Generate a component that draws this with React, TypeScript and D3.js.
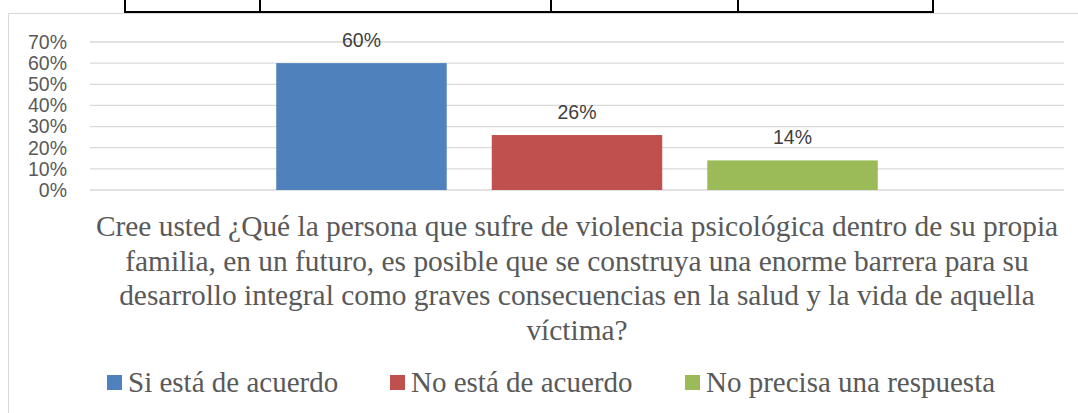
import React from "react";
import * as d3 from "d3";

const seriesNames = ["Si está de acuerdo", "No está de acuerdo", "No precisa una respuesta"];
const seriesValues = [0.6, 0.26, 0.14];
const seriesColors = ["#4F81BD", "#C0504D", "#9BBB59"];
const yTicks = [0, 0.1, 0.2, 0.3, 0.4, 0.5, 0.6, 0.7];
const titleLines = [
  "Cree usted ¿Qué la persona que sufre de violencia psicológica dentro de su propia",
  "familia, en un futuro, es posible que se construya una enorme barrera para su",
  "desarrollo integral como graves consecuencias en la salud y la vida de aquella",
  "víctima?",
];
const tableCols = [125, 260, 551, 738, 933];

export default function App() {
  const W = 1078, H = 413;
  const plotL = 90, plotR = 1064, plotT = 42, plotB = 190;
  const y = d3.scaleLinear().domain([0, 0.7]).range([plotB, plotT]);
  const x = d3
    .scaleBand<string>()
    .domain(seriesNames)
    .range([plotL, plotR])
    .paddingInner(0.209)
    .paddingOuter(0.864);
  const fmt = d3.format(".0%");
  const serif = "'Liberation Serif', 'Times New Roman', serif";
  const sans = "'Liberation Sans', Arial, sans-serif";
  const legendX = [107, 390, 685];

  return (
    <svg
      width={W}
      height={H}
      style={{ position: "absolute", left: 0, top: 0, background: "#fff" }}
    >
      {/* table fragment above */}
      <line x1={124} x2={934} y1={12} y2={12} stroke="#000" strokeWidth={2} />
      {tableCols.map((c) => (
        <line key={c} x1={c} x2={c} y1={0} y2={12} stroke="#000" strokeWidth={2} />
      ))}
      {/* chart border */}
      <rect x={8.5} y={13.5} width={W + 10} height={H + 10} fill="none" stroke="#D9D9D9" strokeWidth={1} />
      {/* gridlines */}
      {yTicks.map((t) => (
        <line key={t} x1={plotL} x2={plotR} y1={y(t)} y2={y(t)} stroke="#D9D9D9" strokeWidth={1.3} />
      ))}
      {/* y labels */}
      {yTicks.map((t) => (
        <text
          key={"l" + t}
          x={67}
          y={y(t)}
          dy="0.35em"
          textAnchor="end"
          fontFamily={sans}
          fontSize={19.5}
          fill="#595959"
        >
          {fmt(t)}
        </text>
      ))}
      {/* bars */}
      {seriesNames.map((s, i) => (
        <rect
          key={s}
          x={x(s)}
          y={y(seriesValues[i])}
          width={x.bandwidth()}
          height={y(0) - y(seriesValues[i])}
          fill={seriesColors[i]}
        />
      ))}
      {/* value labels */}
      {seriesNames.map((s, i) => (
        <text
          key={"v" + s}
          x={(x(s) as number) + x.bandwidth() / 2}
          y={y(seriesValues[i]) - 23}
          dy="0.35em"
          textAnchor="middle"
          fontFamily={sans}
          fontSize={19.5}
          fill="#404040"
        >
          {fmt(seriesValues[i])}
        </text>
      ))}
      {/* title */}
      {titleLines.map((l, i) => (
        <text
          key={"t" + i}
          x={577}
          y={236 + i * 34.5}
          textAnchor="middle"
          fontFamily={serif}
          fontSize={29.4}
          fill="#595959"
        >
          {l}
        </text>
      ))}
      {/* legend */}
      {seriesNames.map((s, i) => (
        <g key={"lg" + s}>
          <rect x={legendX[i]} y={375} width={15} height={15} fill={seriesColors[i]} />
          <text
            x={legendX[i] + 21}
            y={392}
            fontFamily={serif}
            fontSize={29}
            fill="#595959"
          >
            {s}
          </text>
        </g>
      ))}
    </svg>
  );
}
